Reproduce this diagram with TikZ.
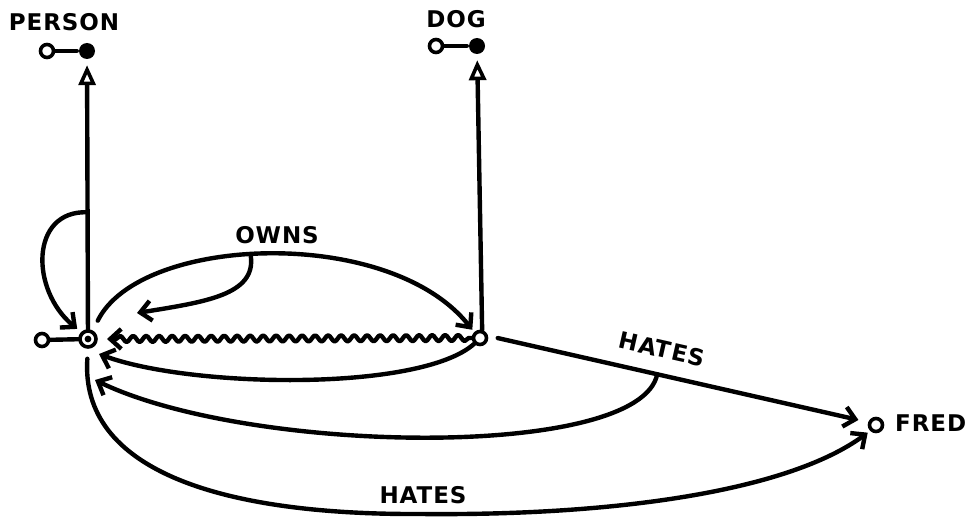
\documentclass[tikz,border=0pt]{standalone}
\usepackage{fontspec}
\newfontfamily\handfont{DejaVu Sans Bold}[LetterSpace=4]
\usetikzlibrary{arrows.meta,decorations.pathmorphing,calc}
\begin{document}
\begin{tikzpicture}[x=1pt,y=-1pt, line width=4.4pt, line cap=round, line join=round,
  hnd/.style={font=\handfont\fontsize{23}{23}\selectfont, inner sep=0pt},
  oc/.style={circle, draw, line width=3.6pt, fill=white, minimum size=13pt, inner sep=0pt},
  fc/.style={circle, fill=black, minimum size=16pt, inner sep=0pt},
  barb/.style={-{Straight Barb[length=11pt,width=20pt]}},
  tri/.style={-{Triangle[open,length=20pt,width=17pt,line width=3.6pt]}}]
\useasboundingbox (0,0) rectangle (975,519);
% type labels
\node[hnd] (tperson) at (64,22) {PERSON};
\node[oc] (po) at (47,51) {};
\node[fc] (pf) at (87,51) {};
\draw (po) -- (pf);
\node[hnd] (tdog) at (456,19) {DOG};
\node[oc] (do) at (436,46) {};
\node[fc] (df) at (477,46) {};
\draw (do) -- (df);
% concept nodes
\node[oc, minimum size=16pt] (pc) at (88,339) {};
\fill (pc.center) circle (3.4pt);
\node[oc] (pl) at (42,340) {};
\draw (pl) -- (pc);
\node[oc] (dg) at (480,338) {};
\node[oc] (fr) at (876,425) {};
\node[hnd, anchor=west] (tfred) at (893,423) {FRED};
% type links
\draw[tri, shorten >=4pt] (pc) -- (pf);
\draw[tri, shorten >=4pt] (dg.75) -- (df);
% self loop
\coordinate (sl) at ($(pc)!0.44!(pf)$);
\draw[barb, shorten >=5pt] (sl) .. controls (30,210) and (30,290) .. (pc.north west);
% owns
\draw[barb, shorten <=11pt, shorten >=3pt] (pc.60) .. controls (140,235) and (390,225) .. (dg.north west) coordinate[pos=0.46] (ow);
\node[hnd] (towns) at (277,235) {OWNS};
\coordinate (owt) at (137,313);
\draw[barb] (ow) .. controls (256,295) and (205,302) .. (owt);
% wavy
\coordinate (tw) at (107,339);
\draw[barb, decorate, decoration={snake, amplitude=3pt, segment length=13pt, pre length=3pt, post length=9pt}] (dg.west) -- (tw);
% lower return from dog
\coordinate (t1) at (99,354);
\draw[barb] (dg.south west) .. controls (420,392) and (190,388) .. (t1);
% hates dog -> fred
\draw[barb, shorten <=10pt, shorten >=10pt] (dg.15) -- (fr.160);
\coordinate (hj) at ($(dg.15)!0.445!(fr.160)$);
\node[hnd, rotate=-12.8] (thates1) at (662,349) {HATES};
\coordinate (t2) at (95,380);
\draw[barb] (hj) .. controls (640,460) and (250,455) .. (t2);
% hates fred -> person (drawn from person)
\draw[barb, shorten <=10pt, shorten >=3pt] (pc.south) .. controls (80,470) and (220,515) .. (420,514) .. controls (620,516) and (790,490) .. (fr.south west);
\node[hnd] (thates2) at (423,495) {HATES};
\end{tikzpicture}
\end{document}
